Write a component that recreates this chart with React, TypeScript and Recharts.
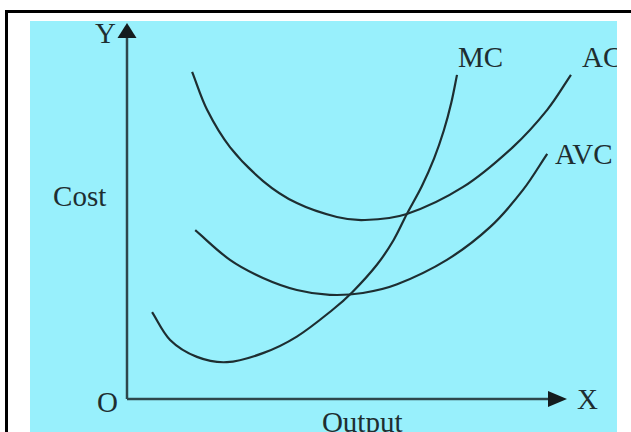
import { LineChart, Line, XAxis, YAxis, ReferenceLine, ReferenceDot } from "recharts";

// output (q) and cost (c) readings for each curve
const AC_Q = [14.8, 18.2, 23.4, 31.0, 38.6, 47.7, 54.1, 63.6, 76.4, 87.7, 95.5, 100.9];
const AC_C = [87.0, 76.9, 67.0, 57.9, 52.1, 48.4, 47.6, 49.2, 56.4, 67.0, 76.9, 86.2];

const MC_Q = [5.7, 9.8, 15.9, 22.7, 30.9, 38.6, 46.8, 51.2, 56.8, 60.6, 63.6, 67.0, 69.8, 72.0, 73.7, 75.0];
const MC_C = [23.1, 15.7, 11.2, 9.8, 12.2, 16.6, 23.8, 28.4, 35.7, 42.3, 49.2, 56.6, 64.0, 71.4, 78.8, 86.2];

const AVC_Q = [15.5, 23.4, 30.9, 38.6, 46.1, 53.6, 61.4, 72.7, 82.5, 90.0, 95.5];
const AVC_C = [44.9, 37.0, 32.2, 29.0, 27.7, 28.2, 30.5, 37.0, 45.7, 55.6, 65.2];

const CURVES = [
  { name: "AC", q: AC_Q, c: AC_C },
  { name: "MC", q: MC_Q, c: MC_C },
  { name: "AVC", q: AVC_Q, c: AVC_C },
];

// text annotations: [text, q, c] (start of text, baseline)
const NOTES: [string, number, number][] = [
  ["Y", -7.3, 94.7],
  ["Cost", -16.8, 51.3],
  ["O", -6.8, -3.5],
  ["X", 102.3, -2.7],
  ["Output", 44.3, -8.8],
  ["MC", 75.2, 88.3],
  ["AC", 103.4, 88.3],
  ["AVC", 97.3, 62.5],
];

const INK = "#1e2e31";
const AXIS = "#2d474c";

const toRows = (q: number[], c: number[]) => q.map((v, i) => ({ q: v, c: c[i] }));

// cubic through the points, tangents weighted by chord length (copes with uneven spacing)
function chordCurve(ctx: any) {
  let pts: number[][] = [];
  const dist = (a: number[], b: number[]) => Math.hypot(b[0] - a[0], b[1] - a[1]);
  return {
    areaStart() {},
    areaEnd() {},
    lineStart() {
      pts = [];
    },
    point(x: number, y: number) {
      pts.push([+x, +y]);
    },
    lineEnd() {
      if (!pts.length) return;
      ctx.moveTo(pts[0][0], pts[0][1]);
      for (let i = 0; i < pts.length - 1; i++) {
        const p0 = pts[i - 1] || pts[i];
        const p1 = pts[i];
        const p2 = pts[i + 1];
        const p3 = pts[i + 2] || p2;
        const d01 = dist(p0, p1);
        const d12 = dist(p1, p2);
        const d23 = dist(p2, p3);
        const k1 = d12 / (3 * (d01 + d12 || 1));
        const k2 = d12 / (3 * (d12 + d23 || 1));
        ctx.bezierCurveTo(
          p1[0] + (p2[0] - p0[0]) * k1,
          p1[1] + (p2[1] - p0[1]) * k1,
          p2[0] - (p3[0] - p1[0]) * k2,
          p2[1] - (p3[1] - p1[1]) * k2,
          p2[0],
          p2[1]
        );
      }
    },
  };
}

const Note = (text: string) => (p: any) => (
  <text
    x={p.cx}
    y={p.cy}
    fill={INK}
    fontFamily="'Liberation Serif', serif"
    fontSize={29}
    textAnchor="start"
  >
    {text}
  </text>
);

const ArrowRight = (p: any) => (
  <path d={`M${p.cx},${p.cy} L${p.cx - 19},${p.cy - 8} L${p.cx - 19},${p.cy + 8} Z`} fill="#141c1e" />
);

const ArrowUp = (p: any) => (
  <path d={`M${p.cx},${p.cy} L${p.cx - 9.5},${p.cy + 15} L${p.cx + 9.5},${p.cy + 15} Z`} fill="#141c1e" />
);

export default function App() {
  return (
    <div style={{ position: "absolute", left: 0, top: 0, width: 631, height: 432, background: "#fff", overflow: "hidden" }}>
      <div
        style={{
          position: "absolute",
          left: 5,
          top: 10,
          right: 0,
          bottom: 0,
          borderTop: "3px solid #000",
          borderLeft: "3px solid #000",
        }}
      />
      <div style={{ position: "absolute", left: 30, top: 21, width: 587, height: 411, background: "#98f0fc", overflow: "hidden" }}>
        <LineChart width={587} height={411} margin={{ top: 2, right: 6, bottom: 33, left: 97 }}>
          <XAxis type="number" dataKey="q" domain={[0, 110]} hide />
          <YAxis type="number" dataKey="c" domain={[0, 100]} hide />
          <ReferenceLine segment={[{ x: 0, y: 0 }, { x: 97, y: 0 }]} stroke={AXIS} strokeWidth={2.5} />
          <ReferenceLine segment={[{ x: 0, y: 0 }, { x: 0, y: 97 }]} stroke={AXIS} strokeWidth={2.5} />
          <ReferenceDot x={100} y={0} r={0} ifOverflow="visible" shape={ArrowRight} />
          <ReferenceDot x={0} y={100} r={0} ifOverflow="visible" shape={ArrowUp} />
          {CURVES.map((s) => (
            <Line
              key={s.name}
              data={toRows(s.q, s.c)}
              dataKey="c"
              type={chordCurve as any}
              stroke={INK}
              strokeWidth={2.2}
              dot={false}
              activeDot={false}
              isAnimationActive={false}
            />
          ))}
          {NOTES.map(([t, q, c]) => (
            <ReferenceDot key={t} x={q} y={c} r={0} ifOverflow="visible" shape={Note(t)} />
          ))}
        </LineChart>
      </div>
    </div>
  );
}
